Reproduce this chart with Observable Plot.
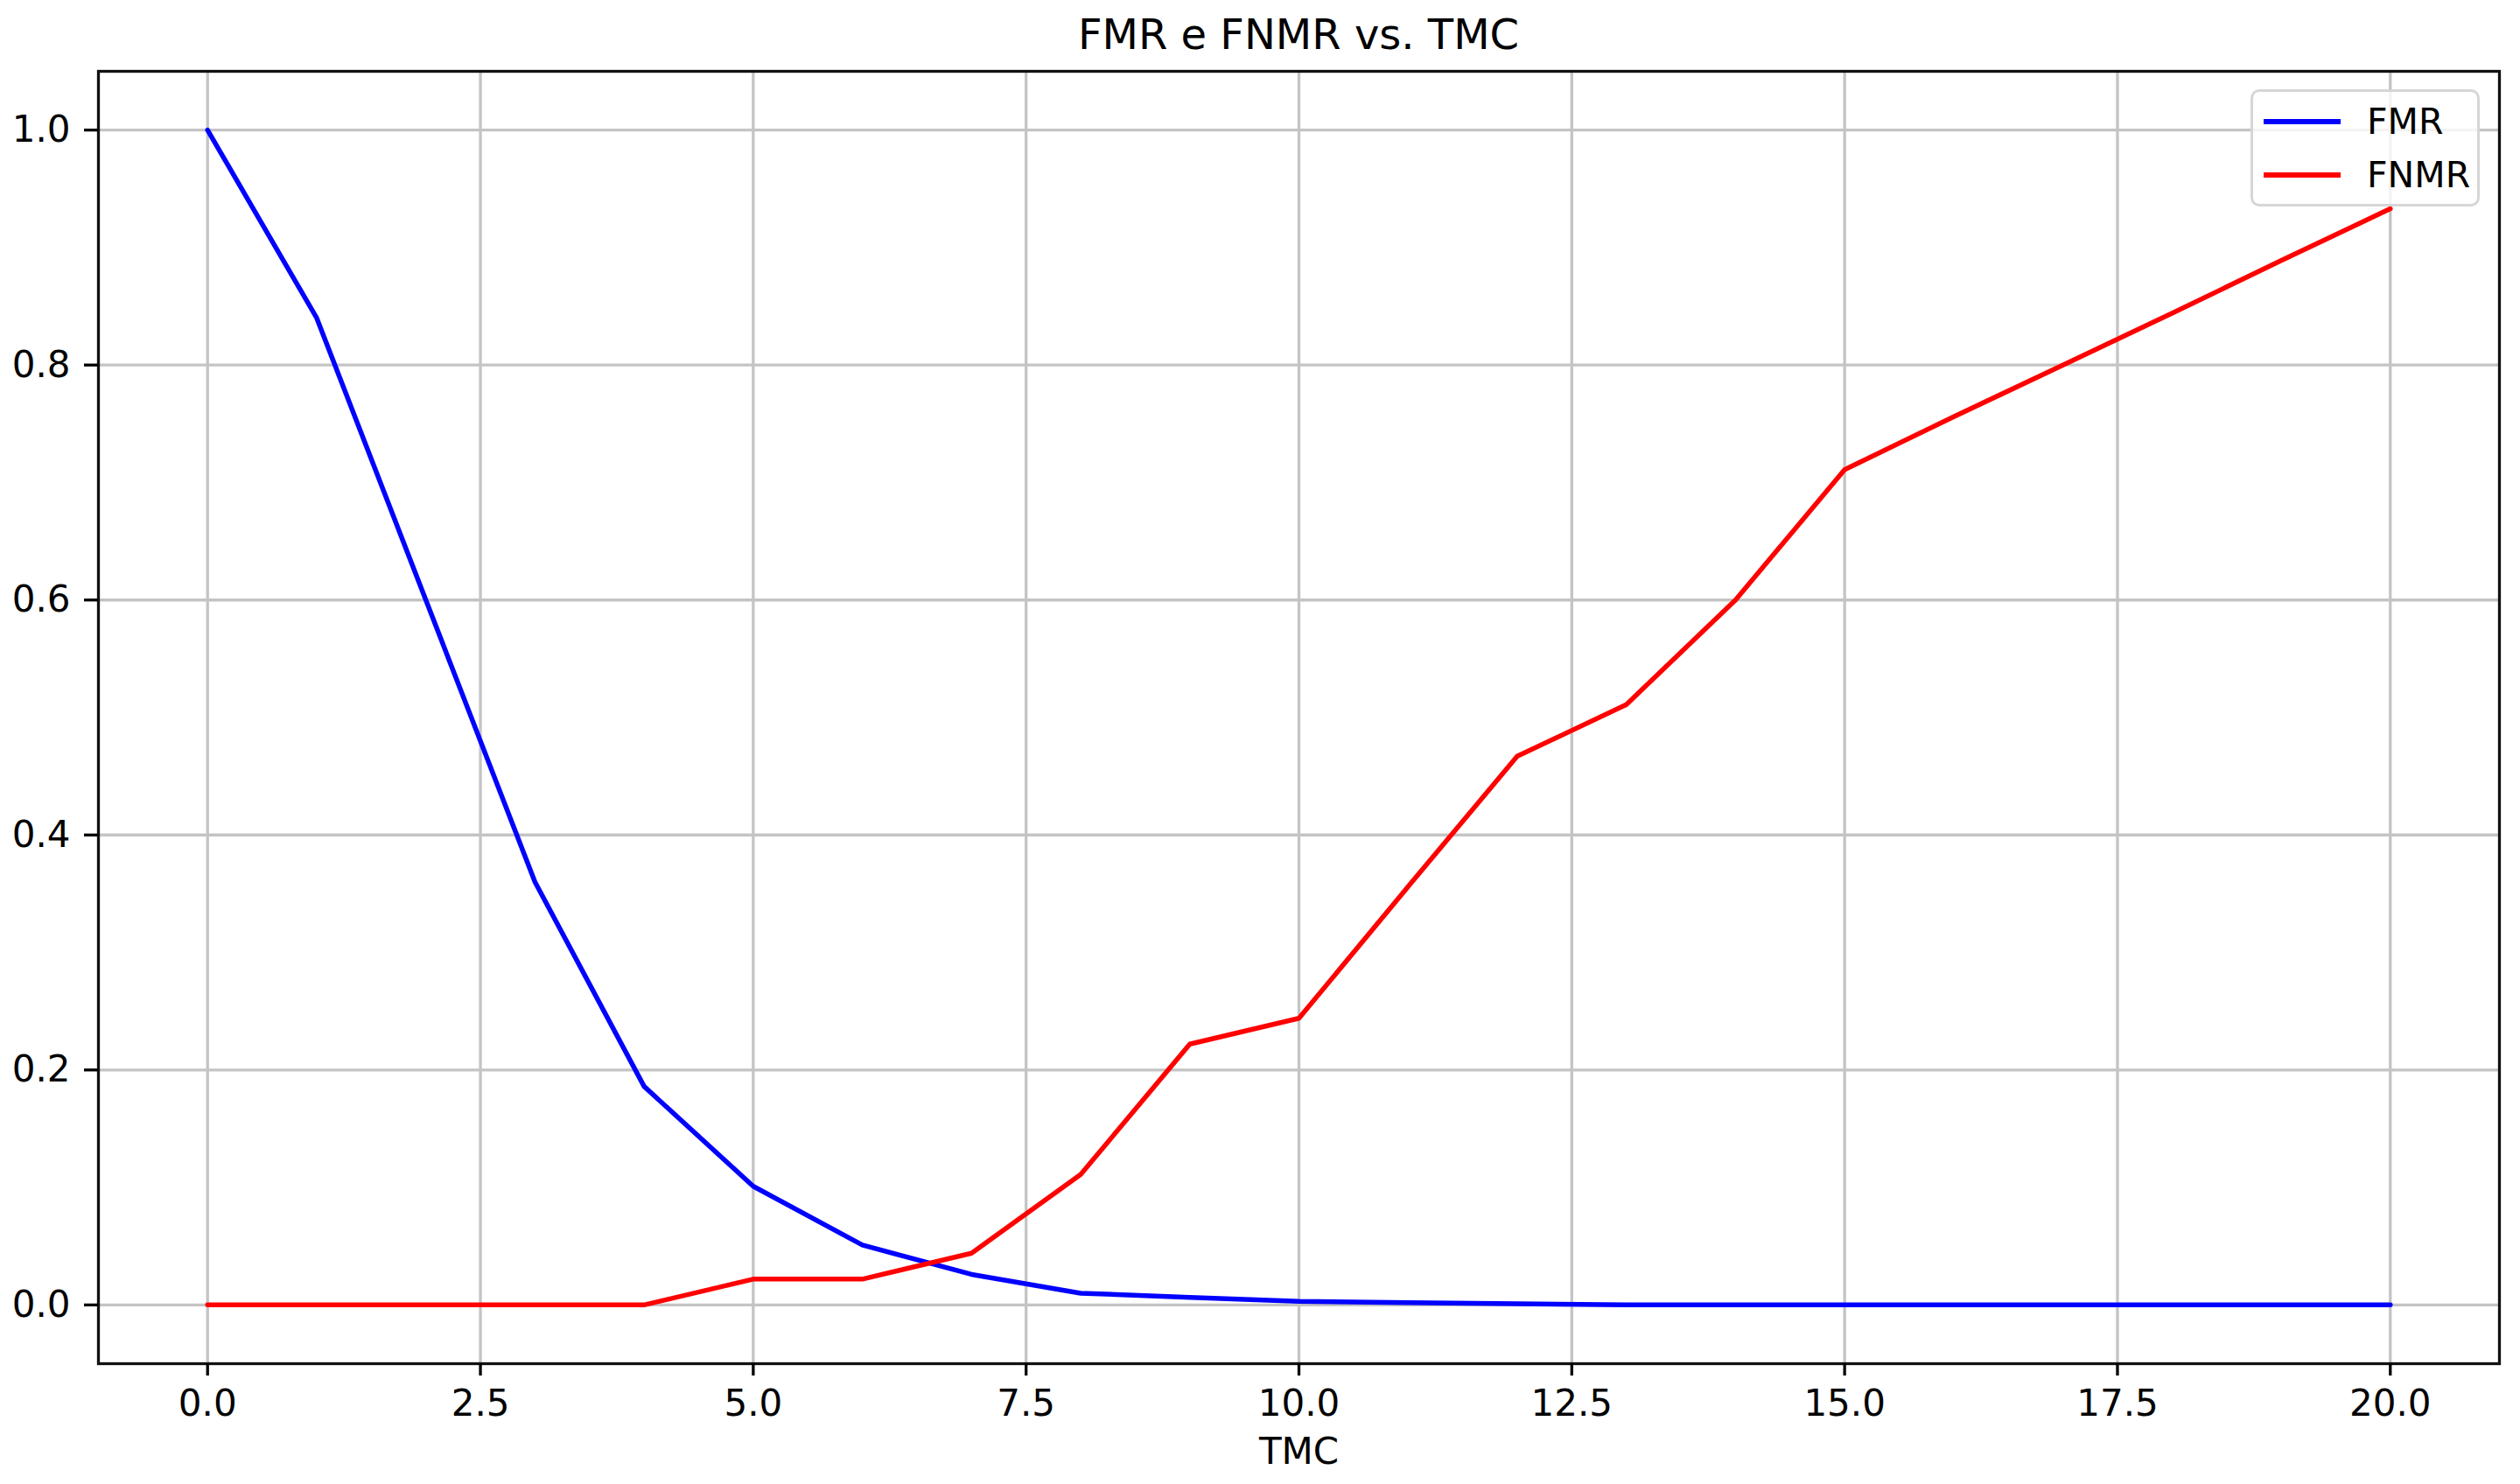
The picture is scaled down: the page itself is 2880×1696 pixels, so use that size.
<!DOCTYPE html>
<html>
<head>
<meta charset="utf-8">
<script src="https://cdn.jsdelivr.net/npm/d3@7"></script>
<script src="https://cdn.jsdelivr.net/npm/@observablehq/plot@0.6"></script>
<style>
  html, body { margin: 0; padding: 0; background: white; }
  #wrap { position: relative; width: 2880px; height: 1696px; font-family: "DejaVu Sans", sans-serif; }
  #title { height: 70px; line-height: 78px; text-align: center; font-size: 48px; color: black; width: 2880px; padding-left: 88px; box-sizing: border-box; }
  #legend { position: absolute; left: 2572px; top: 102px; width: 262px; height: 134px; box-sizing: border-box;
            border: 3px solid rgba(204,204,204,0.8); border-radius: 10px; background: rgba(255,255,255,0.8); }
  .item { position: absolute; left: 0; height: 50px; width: 100%; }
  .swatch { position: absolute; left: 12px; width: 88px; height: 6px; }
  .lab { position: absolute; left: 130px; font-size: 41px; line-height: 50px; color: black; }
</style>
</head>
<body>
<div id="wrap">
  <div id="title">FMR e FNMR vs. TMC</div>
  <div id="chart"></div>
  <div id="legend"></div>
</div>
<script>
const tmc  = [0, 1, 2, 3, 4, 5, 6, 7, 8, 9, 10, 11, 12, 13, 14, 15, 16, 17, 18, 19, 20];
const fmr  = [1.0, 0.84, 0.60, 0.36, 0.186, 0.101, 0.051, 0.026, 0.010, 0.0065, 0.003, 0.002, 0.001, 0.0, 0.0, 0.0, 0.0, 0.0, 0.0, 0.0, 0.0];
const fnmr = [0.0, 0.0, 0.0, 0.0, 0.0, 0.022, 0.022, 0.044, 0.111, 0.222, 0.244, 0.356, 0.467, 0.511, 0.600, 0.711, 0.756, 0.800, 0.844, 0.889, 0.933];
const seriesNames = ["FMR", "FNMR"];
const seriesColors = ["#0000ff", "#ff0000"];
const xTicks = [0, 2.5, 5, 7.5, 10, 12.5, 15, 17.5, 20];
const yTicks = [0, 0.2, 0.4, 0.6, 0.8, 1.0];

const rows = [];
tmc.forEach((t, i) => {
  rows.push({tmc: t, value: fmr[i], series: "FMR"});
  rows.push({tmc: t, value: fnmr[i], series: "FNMR"});
});

const titleH = 70;
const svgH = 1696 - titleH;
const fmt = d3.format(".1f");

const chart = Plot.plot({
  width: 2880,
  height: svgH,
  marginLeft: 112,
  marginRight: 24,
  marginTop: 81 - titleH,
  marginBottom: svgH - (1558 - titleH),
  style: {fontFamily: "DejaVu Sans, sans-serif", fontSize: "42px", color: "black", background: "white", overflow: "visible"},
  x: {domain: [-1, 21], axis: null},
  y: {domain: [-0.05, 1.05], axis: null},
  marks: [
    Plot.gridX(xTicks, {stroke: "#c4c4c4", strokeOpacity: 1, strokeWidth: 3.3}),
    Plot.gridY(yTicks, {stroke: "#c4c4c4", strokeOpacity: 1, strokeWidth: 3.3}),
    Plot.line(rows.filter(d => d.series === "FMR"), {x: "tmc", y: "value", stroke: seriesColors[0], strokeWidth: 5.5}),
    Plot.line(rows.filter(d => d.series === "FNMR"), {x: "tmc", y: "value", stroke: seriesColors[1], strokeWidth: 5.5}),
    Plot.frame({stroke: "#111", strokeWidth: 3.3}),
    Plot.axisX(xTicks, {tickSize: 14, tickPadding: 16, tickFormat: fmt, fontSize: 42, strokeWidth: 3.3, label: null}),
    Plot.axisY(yTicks, {tickSize: 16, tickPadding: 16, tickFormat: fmt, fontSize: 42, strokeWidth: 3.3, label: null}),
    Plot.text(["TMC"], {frameAnchor: "bottom", dy: 85, lineAnchor: "top", fontSize: 42, fill: "black"})
  ]
});
document.getElementById("chart").appendChild(chart);

const legend = document.getElementById("legend");
seriesNames.forEach((name, i) => {
  const item = document.createElement("div");
  item.className = "item";
  item.style.top = (i === 0 ? 9 : 70) + "px";
  const sw = document.createElement("div");
  sw.className = "swatch";
  sw.style.background = seriesColors[i];
  sw.style.top = "22px";
  const lab = document.createElement("div");
  lab.className = "lab";
  lab.style.top = "0px";
  lab.textContent = name;
  item.appendChild(sw);
  item.appendChild(lab);
  legend.appendChild(item);
});
</script>
</body>
</html>
